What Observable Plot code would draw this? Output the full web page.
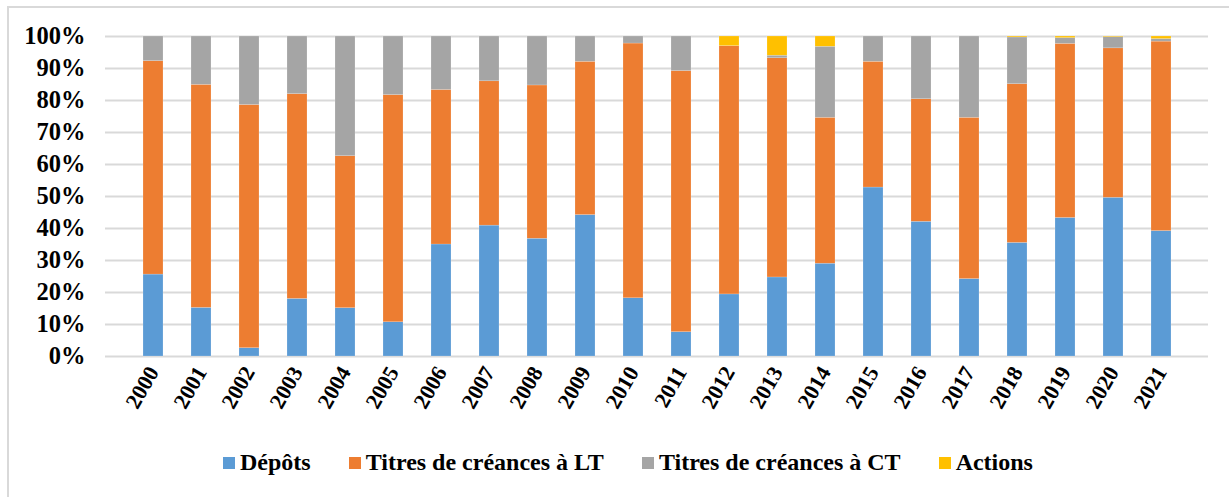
<!DOCTYPE html>
<html>
<head>
<meta charset="utf-8">
<script src="https://cdn.jsdelivr.net/npm/d3@7"></script>
<script src="https://cdn.jsdelivr.net/npm/@observablehq/plot@0.6"></script>
<style>
  body { margin: 0; background: #fff; }
  #wrap { position: relative; width: 1229px; height: 497px; overflow: hidden; background: #fff; }
  #frame { position: absolute; left: 7px; top: 6px; width: 1300px; height: 600px; border-left: 2px solid #d9d9d9; border-top: 2px solid #d9d9d9; }
  #chart { position: absolute; left: 0; top: 0; }
  #legend { position: absolute; left: 223px; top: 449px; display: flex; gap: 38px; align-items: center;
            font-family: 'Liberation Serif', 'Times New Roman', serif; font-weight: bold; font-size: 24px; color: #000; white-space: nowrap; }
  .item { display: flex; align-items: center; gap: 5px; }
  .sw { width: 12px; height: 12px; display: inline-block; }
  #chart svg text { font-family: 'Liberation Serif', 'Times New Roman', serif; }
</style>
</head>
<body>
<div id="wrap">
  <div id="frame"></div>
  <div id="chart"></div>
  <div id="legend"></div>
</div>
<script>
const years = ["2000","2001","2002","2003","2004","2005","2006","2007","2008","2009","2010",
               "2011","2012","2013","2014","2015","2016","2017","2018","2019","2020","2021"];
const series = ["Dépôts", "Titres de créances à LT", "Titres de créances à CT", "Actions"];
const colors = ["#5B9BD5", "#ED7D31", "#A5A5A5", "#FFC000"];

const depots    = [25.6, 15.2, 2.6, 18.0, 15.1, 10.7, 35.0, 40.9, 36.8, 44.2, 18.2, 7.6, 19.4, 24.7, 29.0, 52.8, 42.1, 24.2, 35.5, 43.3, 49.6, 39.2];
const titresLT  = [66.7, 69.7, 76.0, 64.0, 47.5, 71.0, 48.3, 45.1, 47.9, 47.9, 79.6, 81.6, 77.6, 68.5, 45.6, 39.3, 38.3, 50.4, 49.6, 54.4, 46.7, 59.2];
const titresCT  = [7.7, 15.1, 21.4, 18.0, 37.4, 18.3, 16.7, 14.0, 15.3, 7.9, 2.2, 10.8, 0.0, 0.8, 22.2, 7.9, 19.6, 25.4, 14.6, 1.8, 3.5, 0.8];
const actions   = [0, 0, 0, 0, 0, 0, 0, 0, 0, 0, 0, 0, 3.0, 6.0, 3.2, 0, 0, 0, 0.3, 0.5, 0.2, 0.8];
const yTicks    = [0, 0.1, 0.2, 0.3, 0.4, 0.5, 0.6, 0.7, 0.8, 0.9, 1.0];

const valuesBySeries = [depots, titresLT, titresCT, actions];
const data = years.flatMap((yr, i) => series.map((s, j) => ({year: yr, serie: s, value: valuesBySeries[j][i]})));

const chart = Plot.plot({
  width: 1229,
  height: 440,
  marginLeft: 105,
  marginRight: 21,
  marginTop: 36,
  marginBottom: 84,
  style: {fontFamily: "'Liberation Serif', 'Times New Roman', serif", fontWeight: "bold", fontSize: "22px", color: "#000", background: "transparent"},
  x: {domain: years, padding: 0.59, label: null},
  y: {domain: [0, 1], label: null},
  color: {domain: series, range: colors},
  marks: [
    Plot.gridY(yTicks, {stroke: "#d9d9d9", strokeOpacity: 1, strokeWidth: 2}),
    Plot.barY(data, {x: "year", y: "value", fill: "serie", order: series, offset: "normalize", stroke: "#ffffff", strokeOpacity: 0.35, strokeWidth: 0.5}),
    Plot.axisY(yTicks, {tickFormat: d3.format(".0%"), label: null, tickSize: 0, tickPadding: 20, fontSize: 24.5}),
    Plot.axisX({label: null, tickSize: 0, tickPadding: 12, tickRotate: -60, fontSize: 22})
  ]
});
document.getElementById("chart").appendChild(chart);

const legend = document.getElementById("legend");
series.forEach((s, i) => {
  const it = document.createElement("div");
  it.className = "item";
  const sw = document.createElement("span");
  sw.className = "sw";
  sw.style.background = colors[i];
  const t = document.createElement("span");
  t.textContent = s;
  it.appendChild(sw); it.appendChild(t);
  legend.appendChild(it);
});
</script>
</body>
</html>
